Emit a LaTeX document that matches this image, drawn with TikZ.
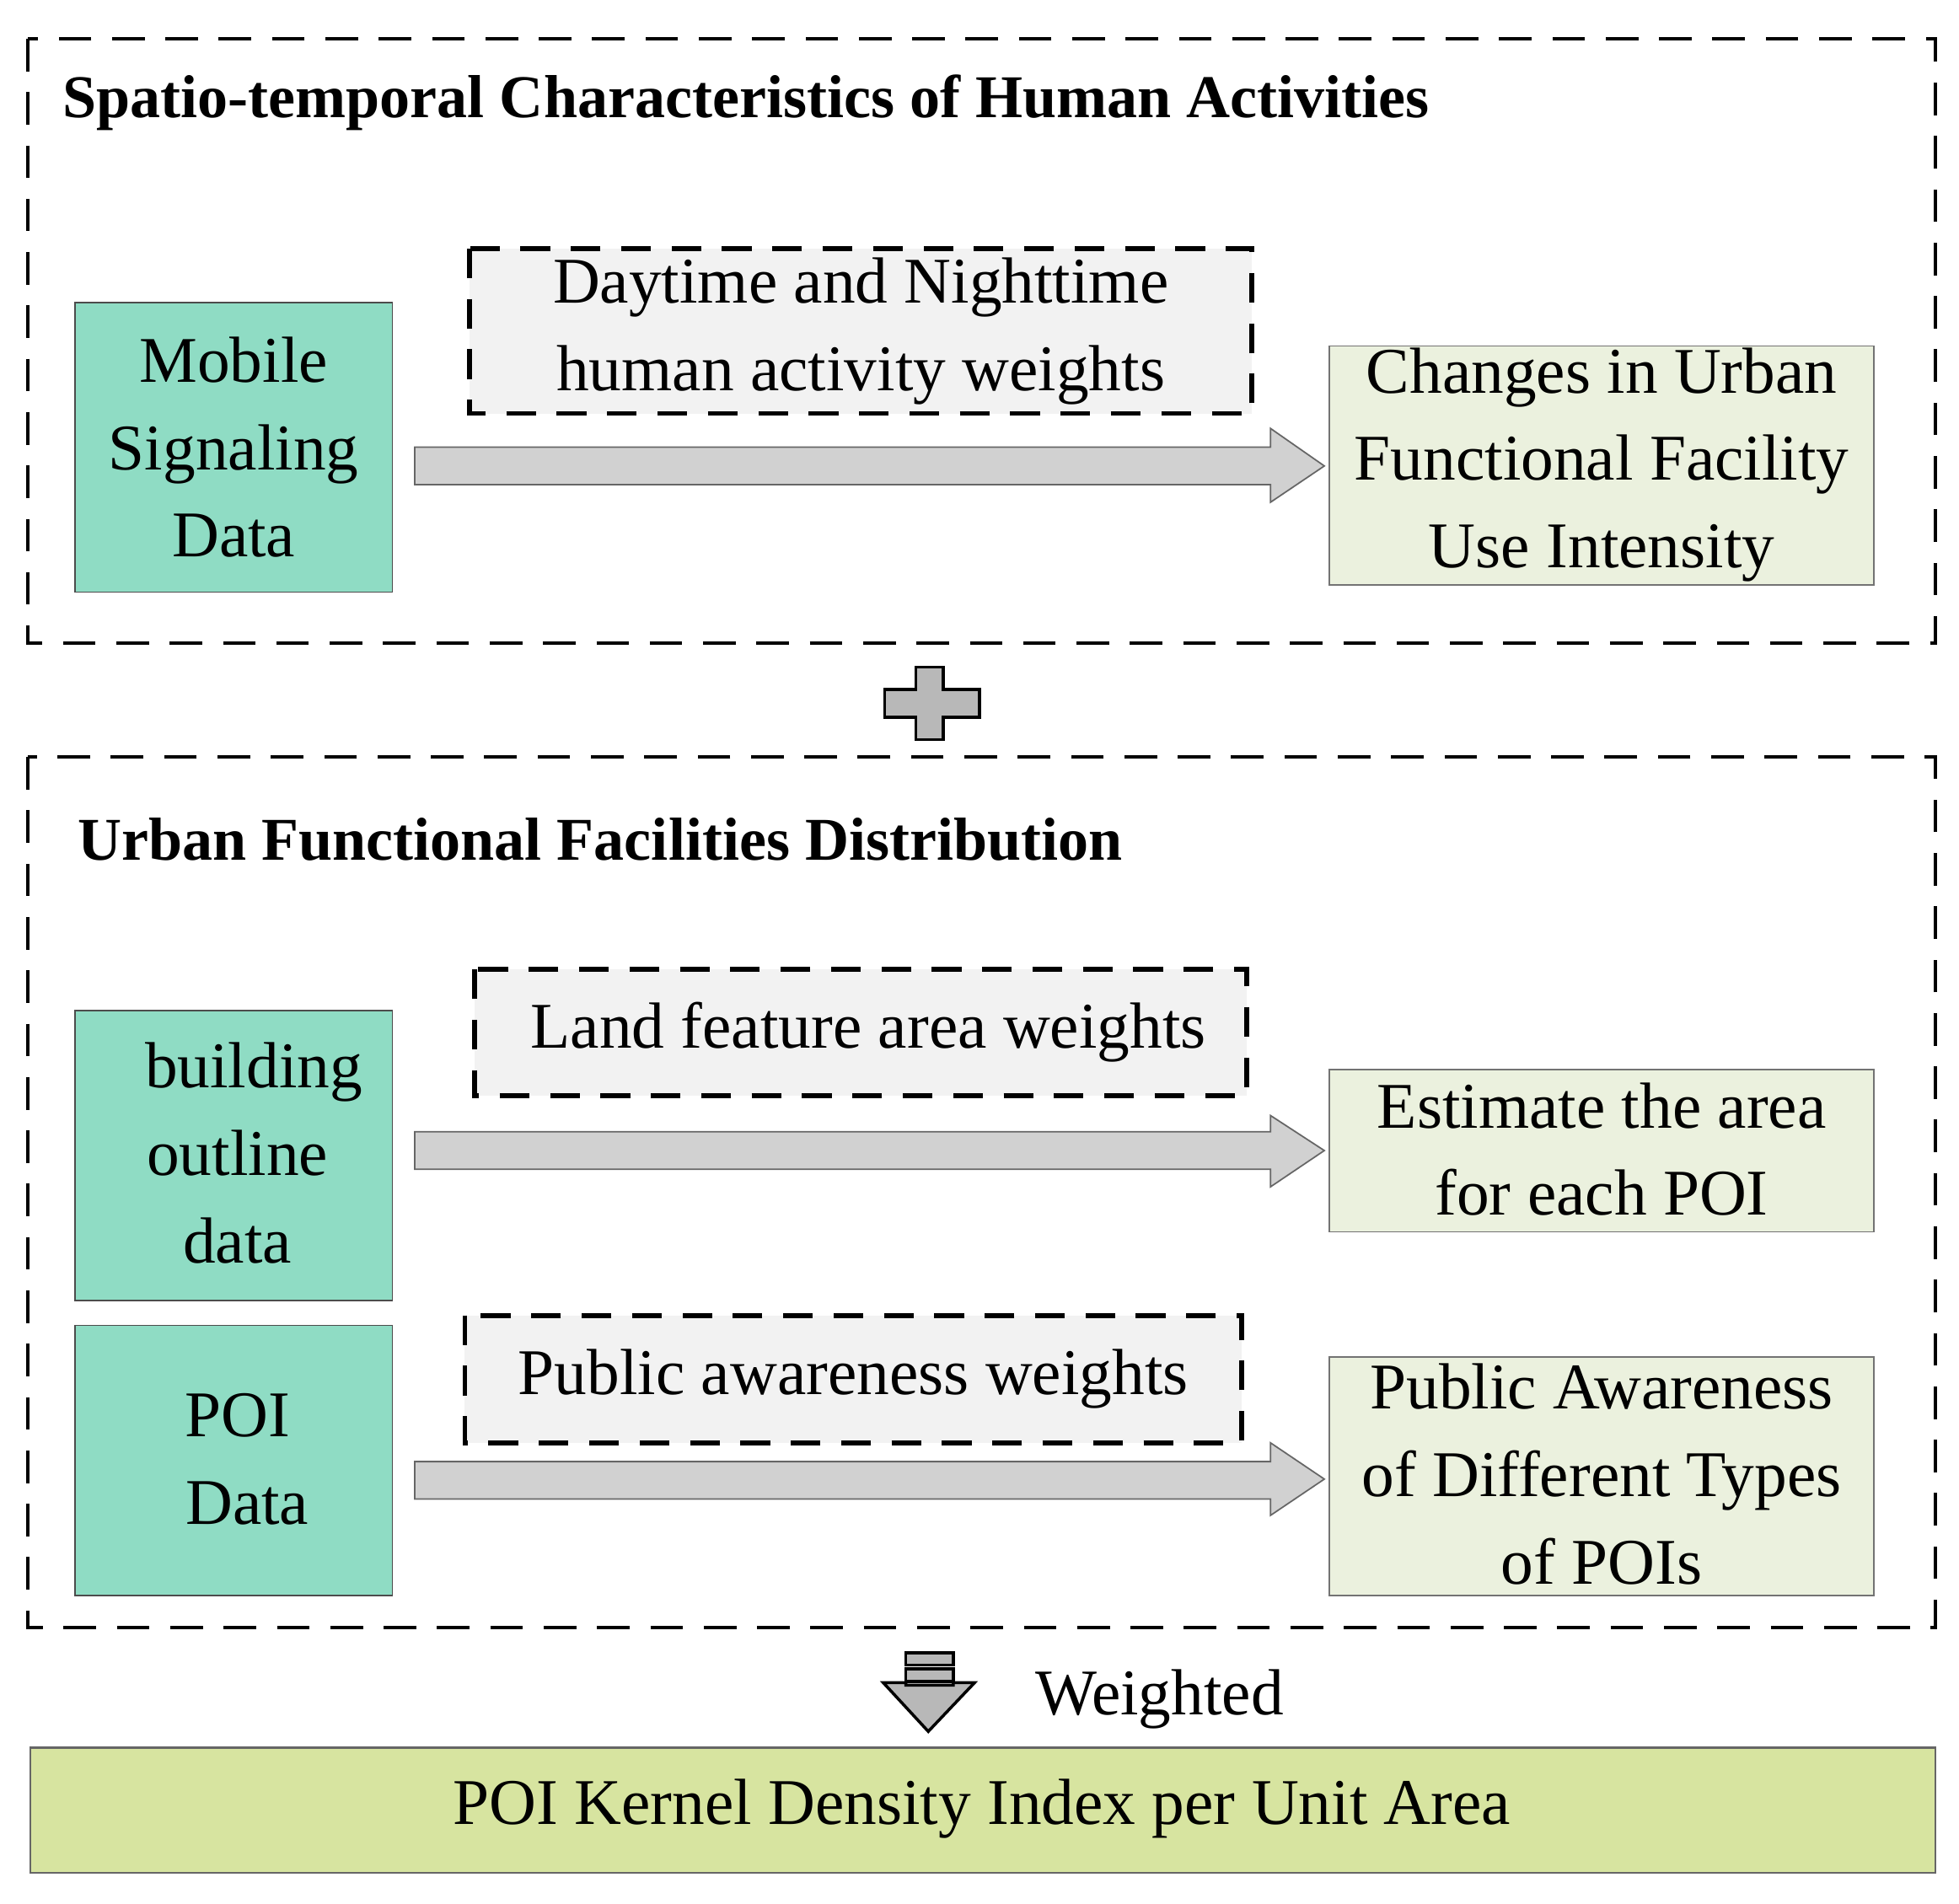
\documentclass[tikz,border=0pt]{standalone}
\usepackage{fontspec}
\setmainfont{Liberation Serif}
\begin{document}
\begin{tikzpicture}[x=0.02964cm,y=-0.02964cm,
  txt/.style={font=\fontsize{44}{59}\selectfont},
  ttl/.style={font=\fontsize{41}{50}\selectfont\bfseries,anchor=west,inner sep=0},
  outer/.style={draw,line width=2.2pt,dash pattern=on 22pt off 14pt},
  wbox/.style={draw,fill=black!5,line width=3.2pt,dash pattern=on 20pt off 14pt},
  src/.style={draw=black!70,fill=teal!20!cyan!10!green!5!white,line width=1pt},
  res/.style={draw=black!55,fill=green!8!gray!8,line width=1pt},
  bigarrow/.style={draw=black!60,fill=black!18,line width=1pt}]
\definecolor{srcc}{HTML}{8FDCC4}
\definecolor{resc}{HTML}{EBF1DE}
\definecolor{botc}{HTML}{D7E4A0}
\useasboundingbox (0,0) rectangle (1568,1524);
% outer boxes
\draw[outer] (22,31) rectangle (1549,515);
\node[ttl] (t1) at (50,82) {Spatio-temporal Characteristics of Human Activities};
\draw[outer] (22,606) rectangle (1549,1303);
\node[ttl] (t2) at (62,672) {Urban Functional Facilities Distribution};
% row 1
\draw[draw=black!70,fill=srcc,line width=1pt] (60,242) rectangle (314,474);
\node[txt,align=center] (m) at (187,358) {Mobile\\Signaling\\Data};
\draw[wbox] (376,199) rectangle (1002,331);
\node[txt,align=center] (w1) at (689,265) {Daytime and Nighttime\\human activity weights};
\draw[bigarrow] (332,358) -- (1017,358) -- (1017,343) -- (1060,373) -- (1017,402) -- (1017,388) -- (332,388) -- cycle;
\draw[draw=black!55,fill=resc,line width=1pt] (1064,277) rectangle (1500,468);
\node[txt,align=center] (r1) at (1282,372) {Changes in Urban\\Functional Facility\\Use Intensity};
% plus
\draw[draw=black,fill=black!28,line width=2pt] (733,534) -- (755,534) -- (755,552) -- (784,552) -- (784,574) -- (755,574) -- (755,592) -- (733,592) -- (733,574) -- (708,574) -- (708,552) -- (733,552) -- cycle;
% row 2
\draw[draw=black!70,fill=srcc,line width=1pt] (60,809) rectangle (314,1041);
\node[txt,align=center] (b) at (190,923) {\hspace*{0.5em}building\\outline\\data};
\draw[wbox] (380,776) rectangle (998,877);
\node[txt] (w2) at (695,826) {Land feature area weights};
\draw[bigarrow] (332,906) -- (1017,906) -- (1017,893) -- (1060,921) -- (1017,950) -- (1017,936) -- (332,936) -- cycle;
\draw[draw=black!55,fill=resc,line width=1pt] (1064,856) rectangle (1500,986);
\node[txt,align=center] (r2) at (1282,920) {Estimate the area\\for each POI};
% row 3
\draw[draw=black!70,fill=srcc,line width=1pt] (60,1061) rectangle (314,1277);
\node[txt,align=center] (p) at (190,1168) {POI\\\hspace*{0.3em}Data};
\draw[wbox] (372,1053) rectangle (994,1155);
\node[txt] (w3) at (683,1104) {Public awareness weights};
\draw[bigarrow] (332,1170) -- (1017,1170) -- (1017,1155) -- (1060,1184) -- (1017,1213) -- (1017,1200) -- (332,1200) -- cycle;
\draw[draw=black!55,fill=resc,line width=1pt] (1064,1086) rectangle (1500,1277);
\node[txt,align=center] (r3) at (1282,1180) {Public Awareness\\of Different Types\\of POIs};
% down arrow
\draw[fill=black!28,line width=2pt] (725,1323) rectangle (763,1333);
\draw[fill=black!28,line width=2pt] (725,1336) rectangle (763,1346);
\draw[fill=black!28,line width=2pt] (725,1349) -- (763,1349) -- (763,1347) -- (780,1347) -- (743,1386) -- (707,1347) -- (725,1347) -- cycle;
\node[txt] (wt) at (928,1360) {Weighted};
% bottom
\draw[draw=black!60,fill=botc,line width=1.2pt] (24,1399) rectangle (1549,1499);
\node[txt] (k) at (786,1448) {POI Kernel Density Index per Unit Area};
\end{tikzpicture}
\end{document}
